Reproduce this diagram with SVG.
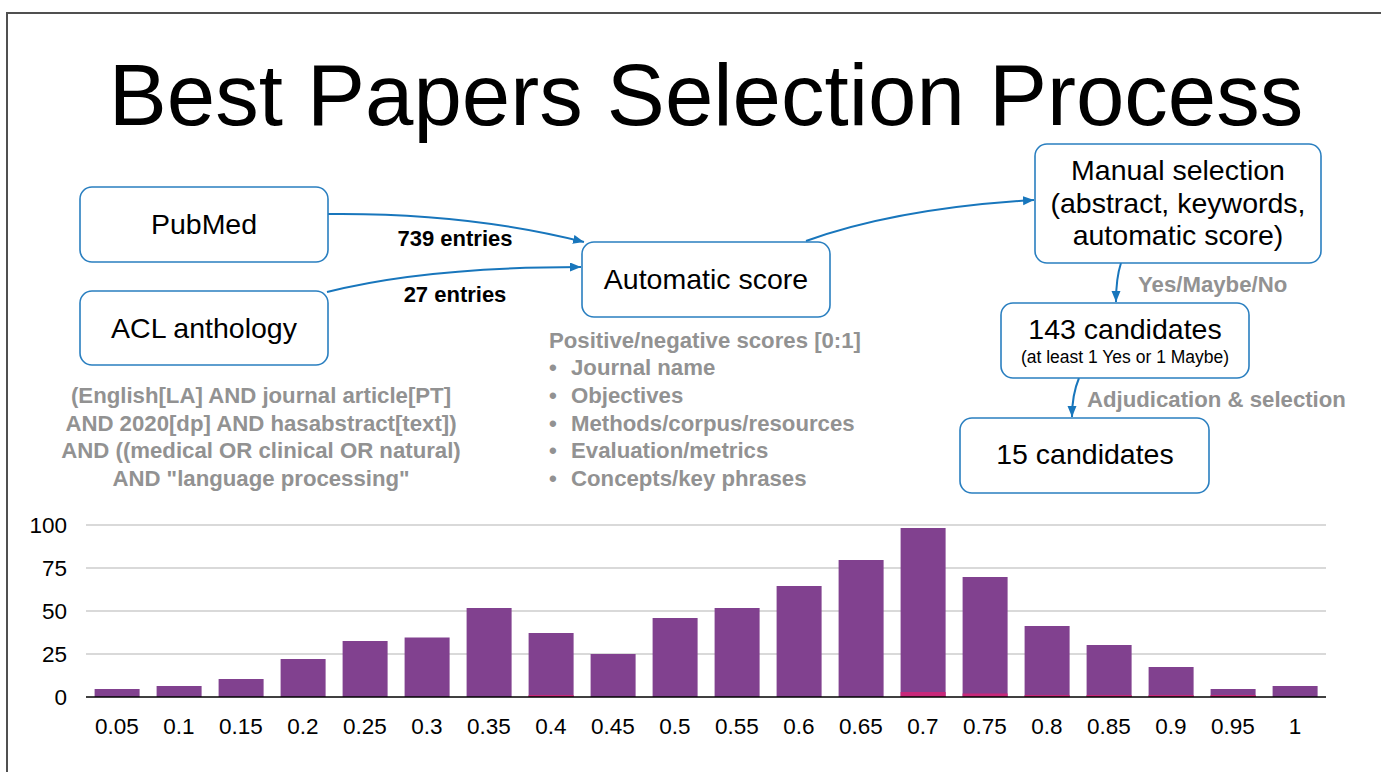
<svg xmlns="http://www.w3.org/2000/svg" width="1381" height="772" viewBox="0 0 1381 772">
  <style>
    text { font-family: "Liberation Sans", Arial, Helvetica, sans-serif; }
    .box { fill: #ffffff; stroke: #2a7fc0; stroke-width: 1.6; }
    .node { font-size: 28.5px; fill: #000000; text-anchor: middle; }
    .small { font-size: 17.5px; fill: #000000; text-anchor: middle; }
    .edge { fill: none; stroke: #1876bc; stroke-width: 2; marker-end: url(#arrow); }
    .count { font-size: 22px; font-weight: bold; fill: #000000; text-anchor: middle; }
    .note { font-size: 22.2px; font-weight: bold; fill: #929292; }
    .grid { stroke: #cccccc; stroke-width: 1.3; }
    .tick { font-size: 22.5px; fill: #000000; }
    .bar { fill: #81418f; }
    .hit { fill: #c8287a; }
  </style>
  <defs>
    <marker id="arrow" markerUnits="userSpaceOnUse" markerWidth="12" markerHeight="10" refX="11" refY="4.5" orient="auto">
      <path d="M0,0 L11,4.5 L0,9 z" fill="#1876bc"/>
    </marker>
  </defs>

  <rect x="0" y="0" width="1381" height="772" fill="#ffffff"/>
  <!-- slide frame -->
  <path d="M7,772 V13 H1381" fill="none" stroke="#505050" stroke-width="2"/>

  <text x="706" y="125" font-size="87" text-anchor="middle" fill="#000000">Best Papers Selection Process</text>

  <!-- connectors -->
  <g id="connectors">
    <path class="edge" d="M328,214 C420,213 505,222 584,242"/>
    <path class="edge" d="M327,292 C390,276 470,267 581,267"/>
    <path class="edge" d="M806,241 C870,218 950,205 1034,200"/>
    <path class="edge" d="M1121,263 C1117,275 1116,285 1116,302"/>
    <path class="edge" d="M1079,378 C1074,390 1072,400 1072,417"/>
    <text class="count" x="455" y="246">739 entries</text>
    <text class="count" x="455" y="302">27 entries</text>
    <text class="note" x="1138" y="292">Yes/Maybe/No</text>
    <text class="note" x="1087" y="407">Adjudication &amp; selection</text>
  </g>

  <!-- nodes -->
  <g id="pubmed">
    <rect class="box" x="80" y="187" width="248" height="75" rx="12"/>
    <text class="node" x="204" y="234">PubMed</text>
  </g>
  <g id="acl">
    <rect class="box" x="80" y="291" width="248" height="74" rx="12"/>
    <text class="node" x="204" y="338">ACL anthology</text>
  </g>
  <g id="automatic-score">
    <rect class="box" x="582" y="242" width="248" height="75" rx="12"/>
    <text class="node" x="706" y="289">Automatic score</text>
  </g>
  <g id="manual-selection">
    <rect class="box" x="1035" y="144" width="286" height="119" rx="12"/>
    <text class="node" x="1178" y="180">Manual selection</text>
    <text class="node" x="1178" y="213">(abstract, keywords,</text>
    <text class="node" x="1178" y="245">automatic score)</text>
  </g>
  <g id="candidates-143">
    <rect class="box" x="1001" y="303" width="248" height="75" rx="12"/>
    <text class="node" x="1125" y="339">143 candidates</text>
    <text class="small" x="1125" y="363">(at least 1 Yes or 1 Maybe)</text>
  </g>
  <g id="candidates-15">
    <rect class="box" x="960" y="418" width="249" height="75" rx="12"/>
    <text class="node" x="1085" y="464">15 candidates</text>
  </g>

  <!-- query and scoring notes -->
  <g id="query" class="note" text-anchor="middle">
    <text x="261" y="403">(English[LA] AND journal article[PT]</text>
    <text x="261" y="431">AND 2020[dp] AND hasabstract[text])</text>
    <text x="261" y="458">AND ((medical OR clinical OR natural)</text>
    <text x="261" y="486">AND "language processing"</text>
  </g>
  <g id="criteria" class="note">
    <text x="549" y="348">Positive/negative scores [0:1]</text>
    <text x="549" y="375">•</text><text x="571" y="375">Journal name</text>
    <text x="549" y="403">•</text><text x="571" y="403">Objectives</text>
    <text x="549" y="431">•</text><text x="571" y="431">Methods/corpus/resources</text>
    <text x="549" y="458">•</text><text x="571" y="458">Evaluation/metrics</text>
    <text x="549" y="486">•</text><text x="571" y="486">Concepts/key phrases</text>
  </g>

  <!-- score histogram -->
  <g id="chart">
    <line class="grid" x1="86" y1="525" x2="1326" y2="525"/>
    <line class="grid" x1="86" y1="568" x2="1326" y2="568"/>
    <line class="grid" x1="86" y1="611" x2="1326" y2="611"/>
    <line class="grid" x1="86" y1="654" x2="1326" y2="654"/>
    <g class="tick" text-anchor="end">
      <text x="67" y="533">100</text>
      <text x="67" y="576">75</text>
      <text x="67" y="619">50</text>
      <text x="67" y="662">25</text>
      <text x="67" y="705">0</text>
    </g>
    <g>
      <rect class="bar" x="94.6" y="689" width="45" height="8"/>
      <rect class="bar" x="156.6" y="686" width="45" height="11"/>
      <rect class="bar" x="218.6" y="679" width="45" height="18"/>
      <rect class="bar" x="280.6" y="659" width="45" height="38"/>
      <rect class="bar" x="342.6" y="641" width="45" height="56"/>
      <rect class="bar" x="404.6" y="637.5" width="45" height="59.5"/>
      <rect class="bar" x="466.6" y="608" width="45" height="89"/>
      <rect class="bar" x="528.6" y="633" width="45" height="64"/>
      <rect class="bar" x="590.6" y="654" width="45" height="43"/>
      <rect class="bar" x="652.6" y="618" width="45" height="79"/>
      <rect class="bar" x="714.6" y="608" width="45" height="89"/>
      <rect class="bar" x="776.6" y="586" width="45" height="111"/>
      <rect class="bar" x="838.6" y="560" width="45" height="137"/>
      <rect class="bar" x="900.6" y="528" width="45" height="169"/>
      <rect class="bar" x="962.6" y="577" width="45" height="120"/>
      <rect class="bar" x="1024.6" y="626" width="45" height="71"/>
      <rect class="bar" x="1086.6" y="645" width="45" height="52"/>
      <rect class="bar" x="1148.6" y="667" width="45" height="30"/>
      <rect class="bar" x="1210.6" y="689" width="45" height="8"/>
      <rect class="bar" x="1272.6" y="686" width="45" height="11"/>
      <rect class="hit" x="528.6" y="695" width="45" height="2"/>
      <rect class="hit" x="900.6" y="692" width="45" height="5"/>
      <rect class="hit" x="962.6" y="693.5" width="45" height="3.5"/>
      <rect class="hit" x="1024.6" y="695" width="45" height="2"/>
      <rect class="hit" x="1086.6" y="695" width="45" height="2"/>
      <rect class="hit" x="1148.6" y="695" width="45" height="2"/>
      <rect class="hit" x="1210.6" y="695" width="45" height="2"/>
    </g>
    <line x1="86" y1="697" x2="1326" y2="697" stroke="#000000" stroke-width="1.5"/>
    <g class="tick" text-anchor="middle">
      <text x="117" y="734">0.05</text>
      <text x="179" y="734">0.1</text>
      <text x="241" y="734">0.15</text>
      <text x="303" y="734">0.2</text>
      <text x="365" y="734">0.25</text>
      <text x="427" y="734">0.3</text>
      <text x="489" y="734">0.35</text>
      <text x="551" y="734">0.4</text>
      <text x="613" y="734">0.45</text>
      <text x="675" y="734">0.5</text>
      <text x="737" y="734">0.55</text>
      <text x="799" y="734">0.6</text>
      <text x="861" y="734">0.65</text>
      <text x="923" y="734">0.7</text>
      <text x="985" y="734">0.75</text>
      <text x="1047" y="734">0.8</text>
      <text x="1109" y="734">0.85</text>
      <text x="1171" y="734">0.9</text>
      <text x="1233" y="734">0.95</text>
      <text x="1295" y="734">1</text>
    </g>
  </g>
</svg>
